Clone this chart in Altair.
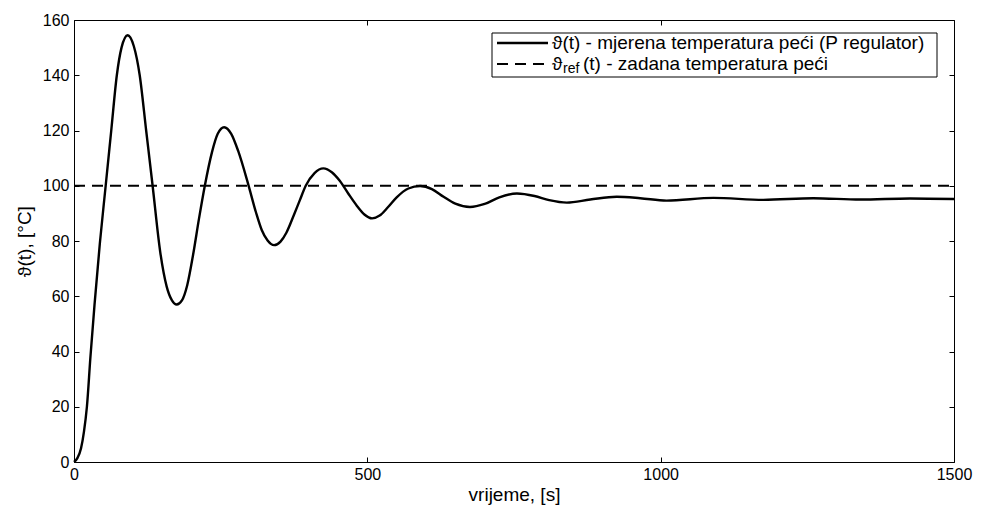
import altair as alt
import pandas as pd

t_s = [0, 6, 12, 17, 22, 28, 35, 44, 54, 63.5, 73, 81, 91.5, 102, 112, 123, 134, 147, 158,
       167, 175, 184, 193, 203, 213, 223, 235, 245, 256, 268, 280, 297, 310, 320, 330, 341,
       352, 362, 375, 385, 395, 410, 425, 440, 453, 468, 482, 495, 508, 521, 535, 550, 570,
       590, 610, 630, 650, 675, 700, 725, 755, 785, 810, 840, 880, 925, 965, 1010, 1090,
       1175, 1260, 1340, 1425, 1500]
temp = [0, 1.5, 5, 11, 20, 38, 57, 79, 100, 120, 140, 150, 154.5, 150.5, 140, 120, 100, 76, 63.5,
        58.5, 57, 58.5, 64, 75, 88, 100, 112, 118.8, 121.2, 118.8, 112.5, 100.5, 90.5, 84, 80.2, 78.5,
        79.8, 83, 89.5, 94.8, 100, 104.6, 106.3, 104.8, 101.8, 97, 92.8, 89.6, 88.2, 89.2, 92.2, 95.8, 99,
        99.9, 98.8, 96, 93.5, 92.3, 93.4, 95.8, 97.2, 96.3, 94.8, 93.9, 95, 96, 95.5, 94.6, 95.6,
        94.9, 95.5, 95.0, 95.4, 95.2]

# reference temperature
ref_t = [0, 1500]
ref_v = [100, 100]

x_ticks = [0, 500, 1000, 1500]
y_ticks = [0, 20, 40, 60, 80, 100, 120, 140, 160]

legend_lines = ["ϑ(t) - mjerena temperatura peći (P regulator)", "(t) - zadana temperatura peći"]

W, H = 880, 442
FONT = "Liberation Sans"

meas = pd.DataFrame({"t": t_s, "v": temp})
ref = pd.DataFrame({"t": ref_t, "v": ref_v})
one = pd.DataFrame({"a": [0]})

xs = alt.Scale(domain=[0, 1500], nice=False, zero=False)
ys = alt.Scale(domain=[0, 160], nice=False, zero=False)

ax_lab_x = alt.Axis(values=x_ticks, orient="bottom", ticks=False, domain=False, grid=False,
                    format="d", labelFlush=False,
                    labelFont=FONT, labelFontSize=16, labelColor="black", labelPadding=4,
                    title="vrijeme, [s]", titleFont=FONT, titleFontSize=19,
                    titleFontWeight="normal", titleColor="black", titlePadding=3)
ax_lab_y = alt.Axis(values=y_ticks, orient="left", ticks=False, domain=False, grid=False,
                    format="d", labelFlush=False,
                    labelFont=FONT, labelFontSize=16, labelColor="black", labelPadding=5,
                    title="ϑ(t), [°C]", titleFont=FONT, titleFontSize=19,
                    titleFontWeight="normal", titleColor="black", titlePadding=8)

def tick_axis(vals, orient):
    return alt.Axis(values=vals, orient=orient, labels=False, domain=False, grid=False,
                    ticks=True, tickSize=5, tickColor="black", tickWidth=1, offset=-5, title=None)

line = alt.Chart(meas).mark_line(color="black", strokeWidth=2.4, interpolate="monotone").encode(
    x=alt.X("t:Q", scale=xs, axis=ax_lab_x),
    y=alt.Y("v:Q", scale=ys, axis=ax_lab_y),
)

refline = alt.Chart(ref).mark_line(color="black", strokeWidth=2, strokeDash=[11, 7]).encode(
    x=alt.X("t:Q", scale=xs, axis=tick_axis(x_ticks, "bottom")),
    y=alt.Y("v:Q", scale=ys, axis=tick_axis(y_ticks, "left")),
)

ghost = alt.Chart(ref).mark_line(opacity=0).encode(
    x=alt.X("t:Q", scale=xs, axis=tick_axis(x_ticks, "top")),
    y=alt.Y("v:Q", scale=ys, axis=tick_axis(y_ticks, "right")),
)

# legend box (MATLAB style)
box = alt.Chart(one).mark_rect(fill="white", stroke="black", strokeWidth=1).encode(
    x=alt.value(418), x2=alt.value(863), y=alt.value(13), y2=alt.value(57)
)
leg_solid = alt.Chart(one).mark_rule(color="black", strokeWidth=2.4).encode(
    x=alt.value(423), x2=alt.value(474), y=alt.value(23)
)
leg_dash = alt.Chart(one).mark_rule(color="black", strokeWidth=2, strokeDash=[11, 7]).encode(
    x=alt.value(423), x2=alt.value(474), y=alt.value(44)
)
txt1 = alt.Chart(one).mark_text(align="left", baseline="middle", font=FONT, fontSize=19,
                                color="black", text=legend_lines[0]).encode(
    x=alt.value(478), y=alt.value(23))
txt2a = alt.Chart(one).mark_text(align="left", baseline="middle", font=FONT, fontSize=19,
                                 color="black", text="ϑ").encode(x=alt.value(478), y=alt.value(44))
txt2b = alt.Chart(one).mark_text(align="left", baseline="middle", font=FONT, fontSize=14,
                                 color="black", text="ref").encode(x=alt.value(489), y=alt.value(49))
txt2c = alt.Chart(one).mark_text(align="left", baseline="middle", font=FONT, fontSize=19,
                                 color="black", text=legend_lines[1]).encode(x=alt.value(509), y=alt.value(44))

chart = alt.layer(line, refline, ghost, box, leg_solid, leg_dash, txt1, txt2a, txt2b, txt2c).resolve_axis(
    x="independent", y="independent"
).properties(
    width=W, height=H,
    autosize=alt.AutoSizeParams(type="none"),
    padding={"left": 66, "top": 12, "right": 20, "bottom": 45},
    background="white",
).configure_view(stroke="black", strokeWidth=1)

chart.save("out.html", embed_options={"renderer": "svg", "actions": False})
